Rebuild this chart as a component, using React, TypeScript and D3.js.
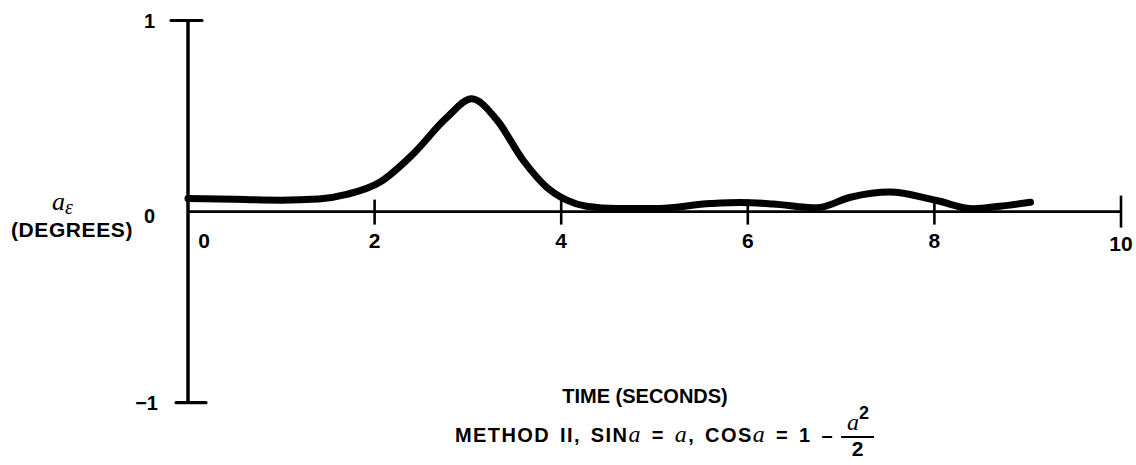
import React, { useEffect, useRef } from "react";
import * as d3 from "d3";

const timeValues = [0.0, 0.5, 1.0, 1.4, 1.7, 2.06, 2.41, 2.77, 3.04, 3.31, 3.59, 3.84, 4.06, 4.27, 4.6, 5.0, 5.6, 5.92, 6.27, 6.74, 7.1, 7.52, 8.02, 8.42, 8.7, 9.03];
const alphaValues = [0.068, 0.064, 0.06, 0.066, 0.09, 0.155, 0.3, 0.49, 0.59, 0.48, 0.27, 0.13, 0.06, 0.028, 0.016, 0.016, 0.042, 0.048, 0.04, 0.02, 0.075, 0.102, 0.058, 0.015, 0.028, 0.049];
const xTicks = [0, 2, 4, 6, 8, 10];
const xTickLabels = ["0", "2", "4", "6", "8", "10"];
const yTicks = [1, 0, -1];
const yTickLabels = ["1", "0", "\u22121"];

const W = 1136;
const H = 465;
const FONT = "'Liberation Sans', Arial, Helvetica, sans-serif";
const SERIF = "'Liberation Serif', 'DejaVu Serif', serif";

export default function App() {
  const ref = useRef<SVGSVGElement | null>(null);

  useEffect(() => {
    const svg = d3.select(ref.current);
    svg.selectAll("*").remove();

    const x = d3.scaleLinear().domain([0, 10]).range([188, 1121]);
    const y = d3.scaleLinear().domain([-1, 1]).range([402.7, 20.5]);

    const g = svg.append("g");

    // y axis line
    g.append("line")
      .attr("x1", x(0)).attr("x2", x(0))
      .attr("y1", y(1)).attr("y2", y(-1))
      .attr("stroke", "#000").attr("stroke-width", 3.5);
    // y end caps
    g.append("line")
      .attr("x1", x(0) - 17).attr("x2", x(0) + 14)
      .attr("y1", y(1)).attr("y2", y(1))
      .attr("stroke", "#000").attr("stroke-width", 3.2).attr("stroke-linecap", "round");
    g.append("line")
      .attr("x1", x(0) - 12).attr("x2", x(0) + 18)
      .attr("y1", y(-1)).attr("y2", y(-1))
      .attr("stroke", "#000").attr("stroke-width", 3.2).attr("stroke-linecap", "round");

    // x axis line
    g.append("line")
      .attr("x1", x(0)).attr("x2", x(10))
      .attr("y1", y(0)).attr("y2", y(0))
      .attr("stroke", "#000").attr("stroke-width", 2.6);

    // x ticks
    xTicks.forEach((t, i) => {
      if (t !== 0) {
        const big = t === 10;
        g.append("line")
          .attr("x1", x(t)).attr("x2", x(t))
          .attr("y1", y(0) - (big ? 16 : 12)).attr("y2", y(0) + (big ? 16 : 13))
          .attr("stroke", "#000").attr("stroke-width", 2.6);
      }
      g.append("text")
        .attr("x", x(t) + (t === 0 ? 16 : 0))
        .attr("y", y(0) + (t === 10 ? 39 : 36))
        .attr("text-anchor", "middle")
        .attr("font-family", FONT)
        .attr("font-weight", "bold")
        .attr("font-size", 21)
        .text(xTickLabels[i]);
    });

    // y tick labels
    yTicks.forEach((t, i) => {
      g.append("text")
        .attr("x", t === -1 ? 158 : 155)
        .attr("y", y(t) + (t === 0 ? 11 : 7))
        .attr("text-anchor", "end")
        .attr("font-family", FONT)
        .attr("font-weight", "bold")
        .attr("font-size", 20)
        .text(yTickLabels[i]);
    });

    // y label
    const yl = g.append("text")
      .attr("x", 52)
      .attr("y", 210)
      .attr("font-family", SERIF)
      .attr("font-style", "italic")
      .attr("font-size", 26);
    yl.append("tspan").text("a");
    yl.append("tspan").attr("font-size", 20).attr("dy", 4).text("\u03b5");

    g.append("text")
      .attr("x", 72)
      .attr("y", 237)
      .attr("text-anchor", "middle")
      .attr("font-family", FONT)
      .attr("font-weight", "bold")
      .attr("font-size", 21)
      .attr("letter-spacing", 0.6)
      .text("(DEGREES)");

    // curve
    const pts = timeValues.map((t, i) => [t, alphaValues[i]] as [number, number]);
    const line = d3.line<[number, number]>()
      .x((d) => x(d[0]))
      .y((d) => y(d[1]))
      .curve(d3.curveMonotoneX);
    g.append("path")
      .attr("d", line(pts) || "")
      .attr("fill", "none")
      .attr("stroke", "#000")
      .attr("stroke-width", 7)
      .attr("stroke-linecap", "round")
      .attr("stroke-linejoin", "round");

    // x label
    g.append("text")
      .attr("x", 645)
      .attr("y", 403)
      .attr("text-anchor", "middle")
      .attr("font-family", FONT)
      .attr("font-weight", "bold")
      .attr("font-size", 20)
      .text("TIME (SECONDS)");

    // method caption
    const cap = g.append("text")
      .attr("x", 455)
      .attr("y", 442)
      .attr("font-family", FONT)
      .attr("font-weight", "bold")
      .attr("font-size", 20)
      .attr("letter-spacing", 1.4)
      .attr("word-spacing", 3);
    const it = (s: string) => cap.append("tspan")
      .attr("font-family", SERIF)
      .attr("font-style", "italic")
      .attr("font-weight", "normal")
      .attr("font-size", 24)
      .text(s);
    const nm = (s: string) => cap.append("tspan").text(s);
    nm("METHOD II, SIN");
    it("a");
    nm(" = ");
    it("a");
    nm(", COS");
    it("a");
    nm(" = 1 \u2013");

    const capNode = cap.node() as SVGTextElement;
    let endX = 848;
    try {
      const bb = capNode.getBBox();
      endX = bb.x + bb.width;
    } catch (e) {}
    const fx = endX + 7;
    const fw = 33;
    g.append("line")
      .attr("x1", fx).attr("x2", fx + fw)
      .attr("y1", 437).attr("y2", 437)
      .attr("stroke", "#000").attr("stroke-width", 2.2);
    const num = g.append("text")
      .attr("x", fx + 6)
      .attr("y", 430)
      .attr("font-family", SERIF)
      .attr("font-style", "italic")
      .attr("font-size", 24);
    num.append("tspan").text("a");
    num.append("tspan")
      .attr("font-family", FONT)
      .attr("font-style", "normal")
      .attr("font-weight", "bold")
      .attr("font-size", 18)
      .attr("dy", -11)
      .text("2");
    g.append("text")
      .attr("x", fx + fw / 2)
      .attr("y", 456)
      .attr("text-anchor", "middle")
      .attr("font-family", FONT)
      .attr("font-weight", "bold")
      .attr("font-size", 21)
      .text("2");
  }, []);

  return (
    <svg
      ref={ref}
      width={W}
      height={H}
      style={{ position: "absolute", left: 0, top: 0, background: "#fff" }}
    />
  );
}
